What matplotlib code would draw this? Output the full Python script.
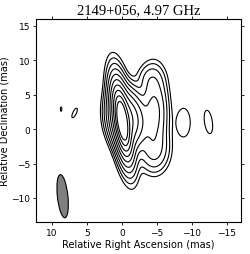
import numpy as np
import matplotlib
matplotlib.use('Agg')
import matplotlib.pyplot as plt
from matplotlib.patches import Ellipse

title = '2149+056, 4.97 GHz'

#core: exponential profile, x, y, scale x, scale y, tilt (deg)
core_x, core_y = -0.05, 1.2
core_sx, core_sy, core_pa = 0.27, 1.17, 8

#gaussian components: x, y (mas), peak, sigma x, sigma y, tilt (deg)
#inner jet, plateau, north bump, south jet, noise blobs
comp_x = [-0.8, -4.6, -4.1, -4.6, -8.8, -12.35, 6.74, 8.67]
comp_y = [1.5, 2.3, 7.3, -3.0, 0.95, 1.04, 2.35, 2.9]
comp_f = [0.025, 0.004, 0.0007, 0.0016, 0.00036, 0.00036, 0.00036, 0.00036]
comp_sx = [1.2, 1.0, 1.1, 1.2, 0.84, 0.49, 0.22, 0.09]
comp_sy = [2.0, 3.0, 1.3, 1.8, 1.81, 1.5, 0.66, 0.27]
comp_pa = [8, 0, 0, 0, 0, 8, -25, 0]

#contour levels, factor 2 steps
lowest = 0.000188
n_levels = 10

#restoring beam
beam_x, beam_y = 8.45, -9.75
beam_min, beam_maj, beam_pa = 1.5, 6.3, -6

x = np.linspace(-18, 13, 900)
y = np.linspace(-14, 17, 900)
X, Y = np.meshgrid(x, y)

def rotated(dx, dy, pa):
    t = np.radians(pa)
    a = dx*np.sin(t) + dy*np.cos(t) #along major axis
    b = dx*np.cos(t) - dy*np.sin(t)
    return a, b

a, b = rotated(X - core_x, Y - core_y, core_pa)
Z = np.exp(-np.sqrt((a/core_sy)**2 + (b/core_sx)**2))
for i in range(len(comp_x)):
    a, b = rotated(X - comp_x[i], Y - comp_y[i], comp_pa[i])
    Z += comp_f[i]*np.exp(-a**2/(2*comp_sy[i]**2) - b**2/(2*comp_sx[i]**2))

levels = lowest*2.0**np.arange(n_levels)

fig = plt.figure(figsize=(2.5, 2.55), dpi=100)
ax = fig.add_axes([0.144, 0.1255, 0.82, 0.796])
ax.contour(X, Y, Z, levels=levels, colors='k', linewidths=0.8)
ax.add_patch(Ellipse((beam_x, beam_y), beam_min, beam_maj, angle=beam_pa,
                     facecolor='gray', edgecolor='k', lw=0.8))
ax.set_xlim(12.25, -17)
ax.set_ylim(-13.5, 16)
ax.set_xticks([10, 5, 0, -5, -10, -15])
ax.set_yticks([-10, -5, 0, 5, 10, 15])
ax.tick_params(direction='out', top=True, right=True, labelsize=6.5,
               length=2.5, width=0.6, pad=1.5)
for s in ax.spines.values():
    s.set_linewidth(0.8)
ax.set_xlabel('Relative Right Ascension (mas)', fontsize=7, labelpad=2)
ax.set_ylabel('Relative Declination (mas)', fontsize=7, labelpad=1.5)
ax.set_title(title, fontsize=10.5, family='Liberation Serif', pad=4)
fig.savefig('out.png', dpi=100)
